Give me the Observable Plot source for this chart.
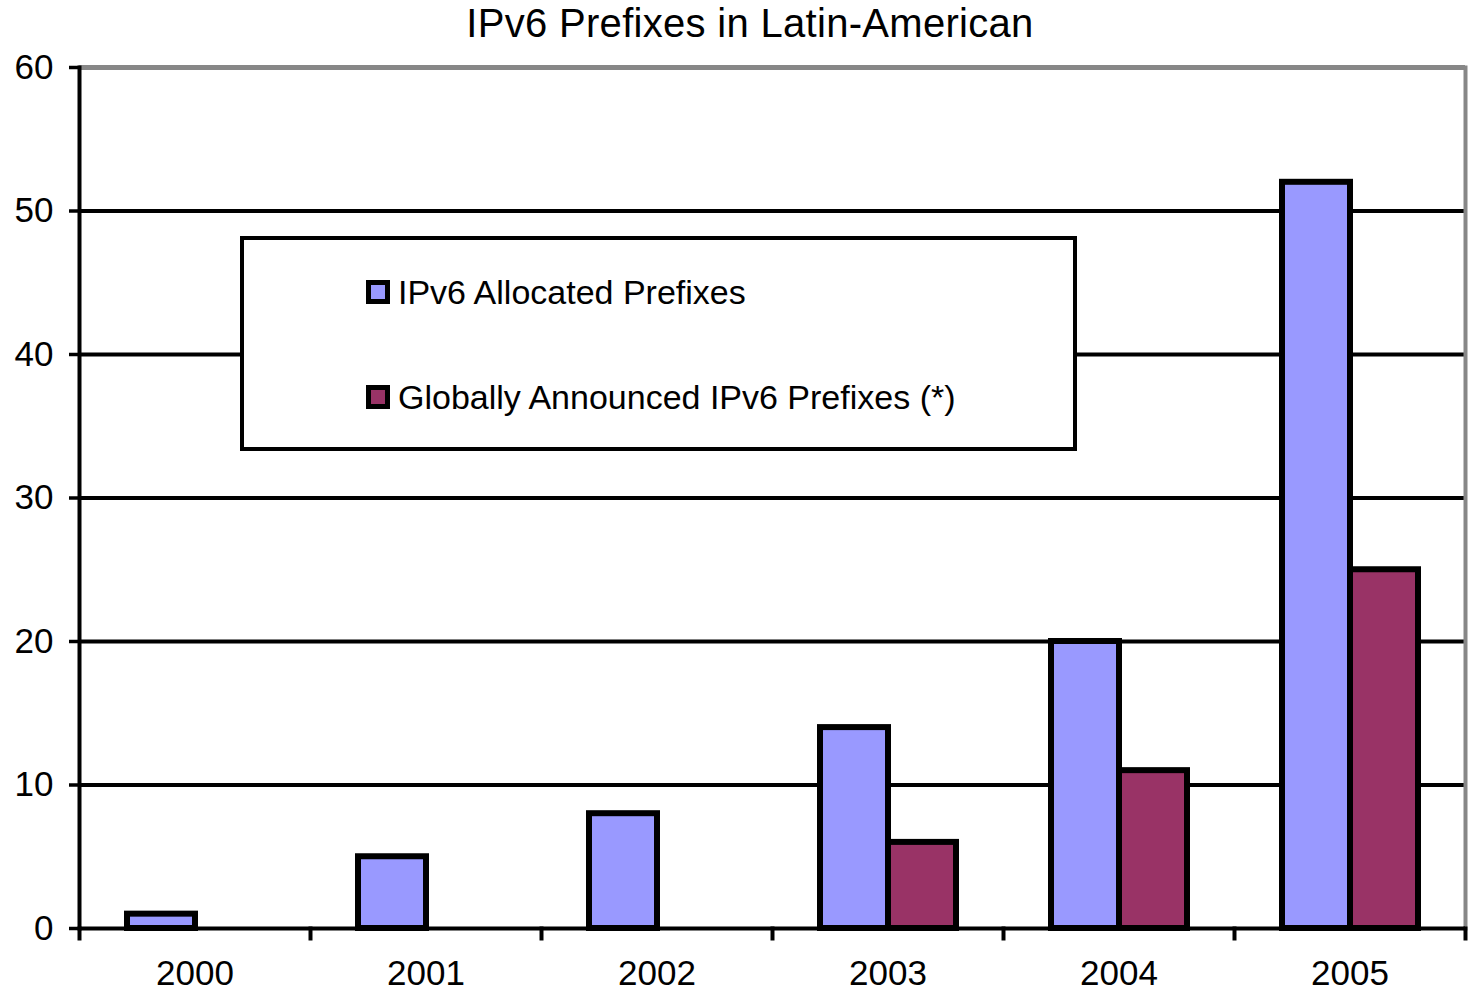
<!DOCTYPE html>
<html>
<head>
<meta charset="utf-8">
<script src="https://cdn.jsdelivr.net/npm/d3@7"></script>
<script src="https://cdn.jsdelivr.net/npm/@observablehq/plot@0.6"></script>
<style>
  body { margin: 0; background: #fff; }
  #wrap { position: relative; width: 1470px; height: 990px; font-family: "Liberation Sans", Arial, sans-serif; color: #000; }
  #title { position: absolute; left: 15px; top: 3px; width: 1470px; text-align: center; font-size: 40px; line-height: 40px; letter-spacing: 0.3px; }
  #legend { position: absolute; left: 240px; top: 236px; width: 837px; height: 215px; box-sizing: border-box; border: 4px solid #000; background: #fff; }
  .entry { position: absolute; left: 122px; height: 40px; display: flex; align-items: center; font-size: 34px; white-space: nowrap; }
  .sw { width: 14px; height: 14px; border: 5px solid #000; margin-right: 8px; }
</style>
</head>
<body>
<div id="wrap">
  <div id="title"></div>
  <div id="legend"></div>
</div>
<script>
// ---- data ----
const titleText = "IPv6 Prefixes in Latin-American";
const years = ["2000", "2001", "2002", "2003", "2004", "2005"];
const seriesNames = ["IPv6 Allocated Prefixes", "Globally Announced IPv6 Prefixes (*)"];
const seriesColors = ["#9999FF", "#993366"];
const allocated = [1, 5, 8, 14, 20, 52];
const announced = [null, null, null, 6, 11, 25];
const yTicks = [0, 10, 20, 30, 40, 50, 60];
const gridTicks = [10, 20, 30, 40, 50];
const legendTops = [32, 137];

// ---- layout ----
const W = 1470, H = 990, mT = 67, mB = 62, mL = 77, mR = 3;
const innerH = H - mT - mB;

const rows = years.flatMap((yr, i) => [
  {year: yr, series: seriesNames[0], value: allocated[i]},
  {year: yr, series: seriesNames[1], value: announced[i]}
]).filter(d => d.value != null);

document.getElementById("title").textContent = titleText;

const chart = Plot.plot({
  width: W, height: H,
  marginTop: mT, marginBottom: mB, marginLeft: mL, marginRight: mR,
  style: {background: "white", color: "black", fontFamily: "Liberation Sans, Arial, sans-serif", fontSize: "35px", overflow: "visible"},
  fx: {domain: years, padding: 0, label: null},
  x: {domain: seriesNames, paddingInner: 0, paddingOuter: 0.69, axis: null},
  y: {domain: [0, 60], axis: null},
  color: {domain: seriesNames, range: seriesColors},
  marks: [
    Plot.ruleY(gridTicks, {stroke: "black", strokeWidth: 4}),
    Plot.ruleY([60], {stroke: "#878787", strokeWidth: 5}),
    Plot.frame({anchor: "right", facetAnchor: "right", stroke: "#878787", strokeWidth: 4}),
    Plot.barY(rows, {fx: "year", x: "series", y: "value", fill: "series", stroke: "black", strokeWidth: 6}),
    Plot.ruleY([0], {stroke: "black", strokeWidth: 4}),
    Plot.frame({anchor: "left", facetAnchor: "left", stroke: "black", strokeWidth: 4}),
    Plot.frame({anchor: "left", insetTop: innerH, insetBottom: -10, stroke: "black", strokeWidth: 4}),
    Plot.frame({anchor: "right", facetAnchor: "right", insetTop: innerH, insetBottom: -10, stroke: "black", strokeWidth: 4}),
    Plot.axisY({ticks: yTicks, tickSize: 10, tickPadding: 16, fontSize: 35, strokeWidth: 3.5, label: null}),
    Plot.axisFx({anchor: "bottom", tickSize: 0, tickPadding: 32, fontSize: 35, label: null})
  ]
});
const wrap = document.getElementById("wrap");
chart.style.position = "absolute";
chart.style.left = "0";
chart.style.top = "0";
wrap.insertBefore(chart, wrap.firstChild);

const legend = document.getElementById("legend");
seriesNames.forEach((name, i) => {
  const e = document.createElement("div");
  e.className = "entry";
  e.style.top = legendTops[i] + "px";
  const sw = document.createElement("div");
  sw.className = "sw";
  sw.style.background = seriesColors[i];
  const t = document.createElement("span");
  t.textContent = name;
  e.appendChild(sw);
  e.appendChild(t);
  legend.appendChild(e);
});
</script>
</body>
</html>
